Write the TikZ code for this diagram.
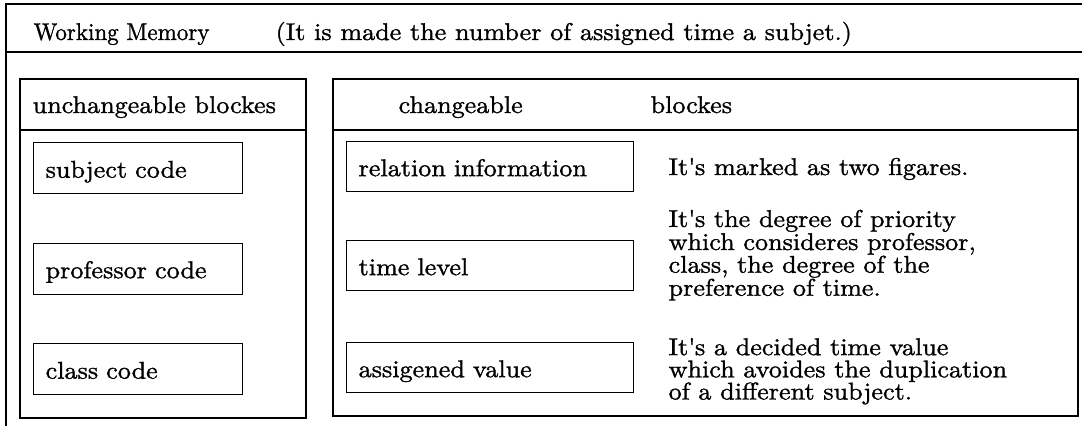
\documentclass[tikz,border=0pt]{standalone}
\usepackage{fontspec}
\setmainfont{lmroman10-regular.otf}[FakeStretch=1.08,FakeBold=1.2]
\newcommand{\apo}{\textquotesingle}
\begin{document}
\begin{tikzpicture}[x=1pt,y=-1pt,line width=1.3pt,
  every node/.style={font=\fontsize{24.2}{21.6}\selectfont},
  lbl/.style={anchor=base west,inner sep=0pt},
  para/.style={anchor=north west,inner sep=0pt,align=left},
  field/.style={draw,anchor=north west,inner xsep=12pt,inner ysep=0pt,
    text height=23pt,text depth=4pt,align=left,minimum height=51pt},
  lfield/.style={field,text width=185pt},
  rfield/.style={field,text width=263pt,minimum height=50pt}]
\useasboundingbox (0,0) rectangle (1082,426);
% outer frame (visible part)
\draw (1082,4) -- (6,4) -- (6,426);
\draw (6,52) -- (1082,52);
\node[lbl] (wm) at (33,40) {\scalebox{0.88}[1]{Working Memory}};
\node[lbl] (wmnote) at (275,40) {(It is made the number of assigned time a subjet.)};
% unchangeable block
\draw (20,79) rectangle (306,418);
\draw (20,130) -- (306,130);
\node[lbl] (uh) at (32,113) {unchangeable blockes};
\node[lfield] (subj) at (33,142) {subject code};
\node[lfield] (prof) at (33,242.5) {professor code};
\node[lfield] (cls) at (33,343) {class code};
% changeable block
\draw (333,79) rectangle (1078,416);
\draw (333,130) -- (1078,130);
\node[lbl] (ch1) at (398,113) {changeable};
\node[lbl] (ch2) at (650,113) {blockes};
\node[rfield] (rel) at (346,141) {relation information};
\node[rfield] (tl) at (346,240) {time level};
\node[rfield] (av) at (346,342) {assigened value};
% descriptions
\node[lbl] (d1) at (668,175) {It\apo s marked as two figares.};
\node[para] (d2) at (668,209.2) {It\apo s the degree of priority\\which consideres professor,\\class, the degree of the\\preference of time.};
\node[para,font=\fontsize{24.2}{22.2}\selectfont] (d3) at (668,337.4) {It\apo s a decided time value\\which avoides the duplication\\of a different subject.};
\end{tikzpicture}
\end{document}
